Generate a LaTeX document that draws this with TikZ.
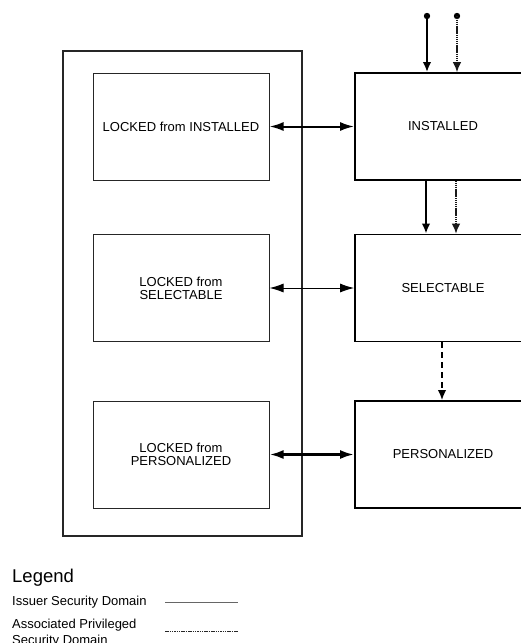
\documentclass[tikz,border=0pt]{standalone}
\usepackage{fontspec}
\setmainfont{Liberation Sans}
\usetikzlibrary{positioning,arrows.meta}

\tikzset{
  lockbox/.style={draw=black!85, line width=1pt, minimum width=176pt, minimum height=107pt,
    inner sep=0pt, align=center, font=\fontsize{13}{13}\selectfont},
  statebox/.style={draw, line width=1.8pt, minimum width=176pt, minimum height=107pt,
    inner sep=0pt, align=center, font=\fontsize{13}{13}\selectfont},
  linkarrow/.style={{Latex[length=14pt,width=9pt]}-{Latex[length=14pt,width=9pt]}},
  downarrow/.style={-{Latex[length=10pt,width=8.5pt]}},
  isdline/.style={line width=2pt},
  apsdline/.style={line width=1.3pt, black!90, dash pattern=on 1.3pt off 0.6pt},
  legendtext/.style={anchor=west, inner sep=0pt, align=left, font=\fontsize{13}{16}\selectfont},
}

\begin{document}
\begin{tikzpicture}[x=1pt, y=-1pt]
  \useasboundingbox (0,0) rectangle (520,643);
  % locked states, inside the outer frame
  \node[draw=black!85, line width=1.2pt, minimum width=239pt, minimum height=485pt, inner sep=0pt]
    (frame) at (182.5,293.5) {};
  \node[lockbox] (lockinst) at (181,126.5) {LOCKED from INSTALLED};
  \node[lockbox] (locksel)  at (181,288) {LOCKED from\\SELECTABLE};
  \node[lockbox] (lockpers) at (181,454.5) {LOCKED from\\PERSONALIZED};
  % life cycle states (cut off on the right)
  \node[statebox] (inst) at (443,126.5) {INSTALLED};
  \node[statebox] (sel)  at (443,288)   {SELECTABLE};
  \node[statebox] (pers) at (443,454.5) {PERSONALIZED};
  % locking / unlocking
  \draw[linkarrow, line width=2pt] (lockinst.east) -- (inst.west);
  \draw[linkarrow, line width=1pt] (locksel.east) -- (sel.west);
  \draw[linkarrow, line width=2.6pt] (lockpers.east) -- (pers.west);
  % transitions
  \coordinate (isdtop)  at (427,16);
  \coordinate (apsdtop) at (457,16);
  \coordinate (isdx)  at (426,0);
  \coordinate (apsdx) at (456,0);
  \coordinate (selx)  at (442,0);
  \fill (isdtop) circle (3.2pt);
  \fill (apsdtop) circle (3.2pt);
  \draw[downarrow, isdline] (isdtop) -- (isdtop |- inst.north);
  \draw[downarrow, apsdline] (apsdtop) -- (apsdtop |- inst.north);
  \draw[downarrow, isdline] (isdx |- inst.south) -- (isdx |- sel.north);
  \draw[downarrow, apsdline] (apsdx |- inst.south) -- (apsdx |- sel.north);
  \draw[downarrow, line width=1.6pt, dash pattern=on 6pt off 4pt] (selx |- sel.south) -- (selx |- pers.north);
  % legend
  \node[legendtext, font=\fontsize{18.5}{18.5}\selectfont] (legend) at (12,578) {Legend};
  \node[legendtext] (isd) at (12,602) {Issuer Security Domain};
  \node[legendtext, anchor=north west] (apsd) at (12,619) {Associated Privileged\\Security Domain};
  \coordinate (isdA) at (165,602);
  \coordinate (isdB) at (238,602);
  \coordinate (apsdA) at (165,631);
  \coordinate (apsdB) at (238,631);
  \draw[black!60, line width=0.9pt] (isdA) -- (isdB);
  \draw[black!85, line width=0.8pt, dash pattern=on 1.5pt off 0.8pt] (apsdA) -- (apsdB);
\end{tikzpicture}
\end{document}
